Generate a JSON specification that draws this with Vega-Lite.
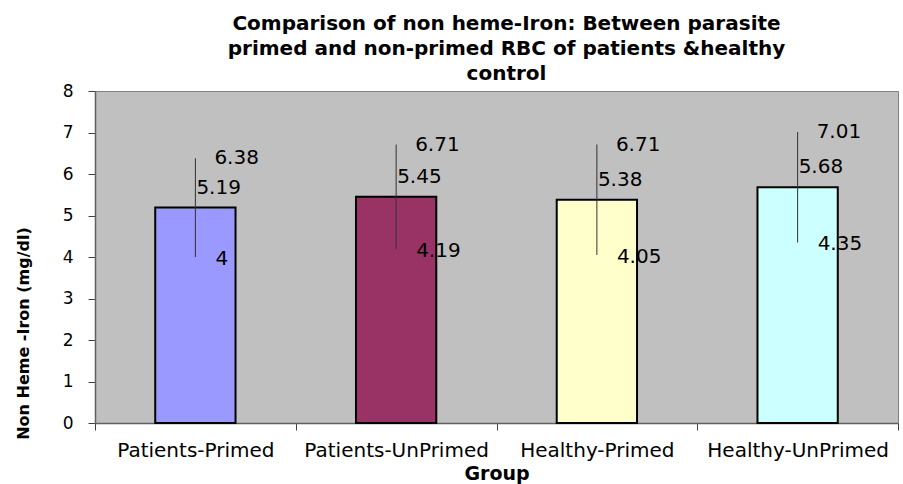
{
  "$schema": "https://vega.github.io/schema/vega-lite/v6.json",
  "autosize": "none",
  "width": 803,
  "height": 332,
  "padding": {"left": 95, "top": 91, "right": 5, "bottom": 61},
  "background": "white",
  "title": {
    "text": ["Comparison of non heme-Iron: Between parasite", "primed and non-primed RBC of patients &healthy", "control"],
    "font": "DejaVu Sans",
    "fontSize": 20,
    "fontWeight": "bold",
    "color": "black",
    "lineHeight": 25,
    "anchor": "middle",
    "dx": 10,
    "offset": -2
  },
  "config": {
    "view": {"fill": "#C0C0C0", "stroke": "#808080", "strokeWidth": 1},
    "axis": {"labelFont": "DejaVu Sans", "titleFont": "DejaVu Sans", "labelColor": "black", "titleColor": "black", "domainColor": "#606060", "tickColor": "#404040", "grid": false}
  },
  "data": {
    "values": [
      {"group": "Patients-Primed", "mean": 5.19, "low": 4.0, "high": 6.38, "lowLabel": "4", "meanLabel": "5.19", "highLabel": "6.38"},
      {"group": "Patients-UnPrimed", "mean": 5.45, "low": 4.19, "high": 6.71, "lowLabel": "4.19", "meanLabel": "5.45", "highLabel": "6.71"},
      {"group": "Healthy-Primed", "mean": 5.38, "low": 4.05, "high": 6.71, "lowLabel": "4.05", "meanLabel": "5.38", "highLabel": "6.71"},
      {"group": "Healthy-UnPrimed", "mean": 5.68, "low": 4.35, "high": 7.01, "lowLabel": "4.35", "meanLabel": "5.68", "highLabel": "7.01"}
    ]
  },
  "encoding": {
    "x": {
      "field": "group",
      "type": "nominal",
      "sort": null,
      "scale": {"paddingInner": 0, "paddingOuter": 0},
      "axis": {
        "title": "Group",
        "titleFontSize": 19,
        "titleFontWeight": "bold",
        "titlePadding": 4,
        "labelAngle": 0,
        "labelFontSize": 20,
        "labelPadding": 10,
        "labelLimit": 0,
        "labelOverlap": false,
        "tickBand": "extent",
        "tickSize": 7,
        "domainWidth": 1.5
      }
    }
  },
  "layer": [
    {
      "mark": {"type": "bar", "width": {"band": 0.4}, "stroke": "black", "strokeWidth": 2},
      "encoding": {
        "y": {
          "field": "mean",
          "type": "quantitative",
          "scale": {"domain": [0, 8], "nice": false},
          "axis": {
            "title": "Non Heme -Iron (mg/dl)",
            "titleFontSize": 16,
            "titleFontWeight": "bold",
            "titleX": -72,
            "titleY": 242,
            "titleBaseline": "middle",
            "labelFontSize": 17,
            "labelPadding": 15,
            "tickCount": 8,
            "tickSize": 7,
            "domainWidth": 1.5
          }
        },
        "color": {
          "field": "group",
          "type": "nominal",
          "sort": null,
          "legend": null,
          "scale": {
            "domain": ["Patients-Primed", "Patients-UnPrimed", "Healthy-Primed", "Healthy-UnPrimed"],
            "range": ["#9999FF", "#993366", "#FFFFCC", "#CCFFFF"]
          }
        }
      }
    },
    {
      "mark": {"type": "rule", "color": "#303030", "strokeWidth": 1},
      "encoding": {
        "y": {"field": "low", "type": "quantitative"},
        "y2": {"field": "high"}
      }
    },
    {
      "mark": {"type": "text", "align": "left", "baseline": "middle", "dx": 19, "font": "DejaVu Sans", "fontSize": 20, "color": "black"},
      "encoding": {
        "y": {"field": "high", "type": "quantitative"},
        "text": {"field": "highLabel"}
      }
    },
    {
      "mark": {"type": "text", "align": "left", "baseline": "middle", "dx": 1, "dy": -20, "font": "DejaVu Sans", "fontSize": 20, "color": "black"},
      "encoding": {
        "y": {"field": "mean", "type": "quantitative"},
        "text": {"field": "meanLabel"}
      }
    },
    {
      "mark": {"type": "text", "align": "left", "baseline": "middle", "dx": 20, "dy": 2, "font": "DejaVu Sans", "fontSize": 20, "color": "black"},
      "encoding": {
        "y": {"field": "low", "type": "quantitative"},
        "text": {"field": "lowLabel"}
      }
    }
  ]
}
